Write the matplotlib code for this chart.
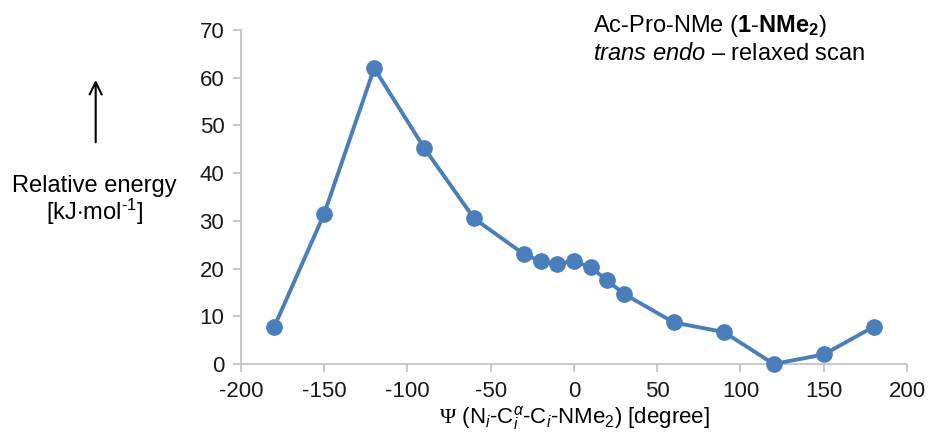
import matplotlib
matplotlib.use("Agg")
import matplotlib.pyplot as plt

plt.rcParams['font.family'] = ['Liberation Sans', 'DejaVu Sans']
plt.rcParams['mathtext.fontset'] = 'custom'
plt.rcParams['mathtext.rm'] = 'Liberation Sans'
plt.rcParams['mathtext.it'] = 'Liberation Sans:italic'
plt.rcParams['mathtext.bf'] = 'Liberation Sans:bold'
plt.rcParams['mathtext.sf'] = 'Liberation Serif'  # serif Psi like the original
plt.rcParams['axes.unicode_minus'] = False

# dihedral angle psi (degree) and relative energy (kJ/mol)
psi = [-180, -150, -120, -90, -60, -30, -20, -10, 0, 10, 20, 30, 60, 90, 120, 150, 180]
energy = [7.8, 31.5, 62.0, 45.3, 30.5, 23.0, 21.5, 21.0, 21.5, 20.3, 17.5, 14.7, 8.7, 6.7, 0.0, 2.0, 7.8]

x_ticks = [-200, -150, -100, -50, 0, 50, 100, 150, 200]
y_ticks = [0, 10, 20, 30, 40, 50, 60, 70]

blue = '#4a7ebb'
grey = '#bfbfbf'

fig = plt.figure(figsize=(9.29, 4.41), dpi=100)
ax = fig.add_axes([0.2594, 0.1746, 0.7169, 0.7574])

ax.plot(psi, energy, color=blue, lw=2.8, marker='o', ms=11, mec=blue, mfc=blue,
        clip_on=False, zorder=3)

ax.set_xlim(-200, 200)
ax.set_ylim(0, 70)
ax.set_xticks(x_ticks)
ax.set_yticks(y_ticks)
ax.tick_params(axis='both', labelsize=16, color=grey, length=6, width=1.2,
               labelcolor='#1a1a1a', pad=6)
for s in ['top', 'right']:
    ax.spines[s].set_visible(False)
for s in ['left', 'bottom']:
    ax.spines[s].set_color(grey)
    ax.spines[s].set_linewidth(1.2)

ax.set_xlabel(r"$\mathsf{\Psi}$ (N$_i$-C$_i^{\alpha}$-C$_i$-NMe$_2$) [degree]", fontsize=16, labelpad=2)

# molecule label, top right
fig.text(0.638, 0.927, r"Ac-Pro-NMe ($\mathbf{1}$-$\mathbf{NMe_2}$)", fontsize=17, ha='left', va='baseline')
fig.text(0.638, 0.864, r"$\mathit{trans\ endo}$ – relaxed scan", fontsize=17, ha='left', va='baseline')

# y axis label with arrow
fig.text(0.102, 0.578, "Relative energy", fontsize=17, ha='center', va='center')
fig.text(0.102, 0.519, r"[kJ$\cdot$mol$^{\text{-}1}$]", fontsize=17, ha='center', va='center')
ax.annotate('', xy=(0.103, 0.825), xytext=(0.103, 0.671), xycoords='figure fraction',
            textcoords='figure fraction',
            arrowprops=dict(arrowstyle='->', color='black', lw=1.5, mutation_scale=22))

fig.savefig('out.png', dpi=100)
